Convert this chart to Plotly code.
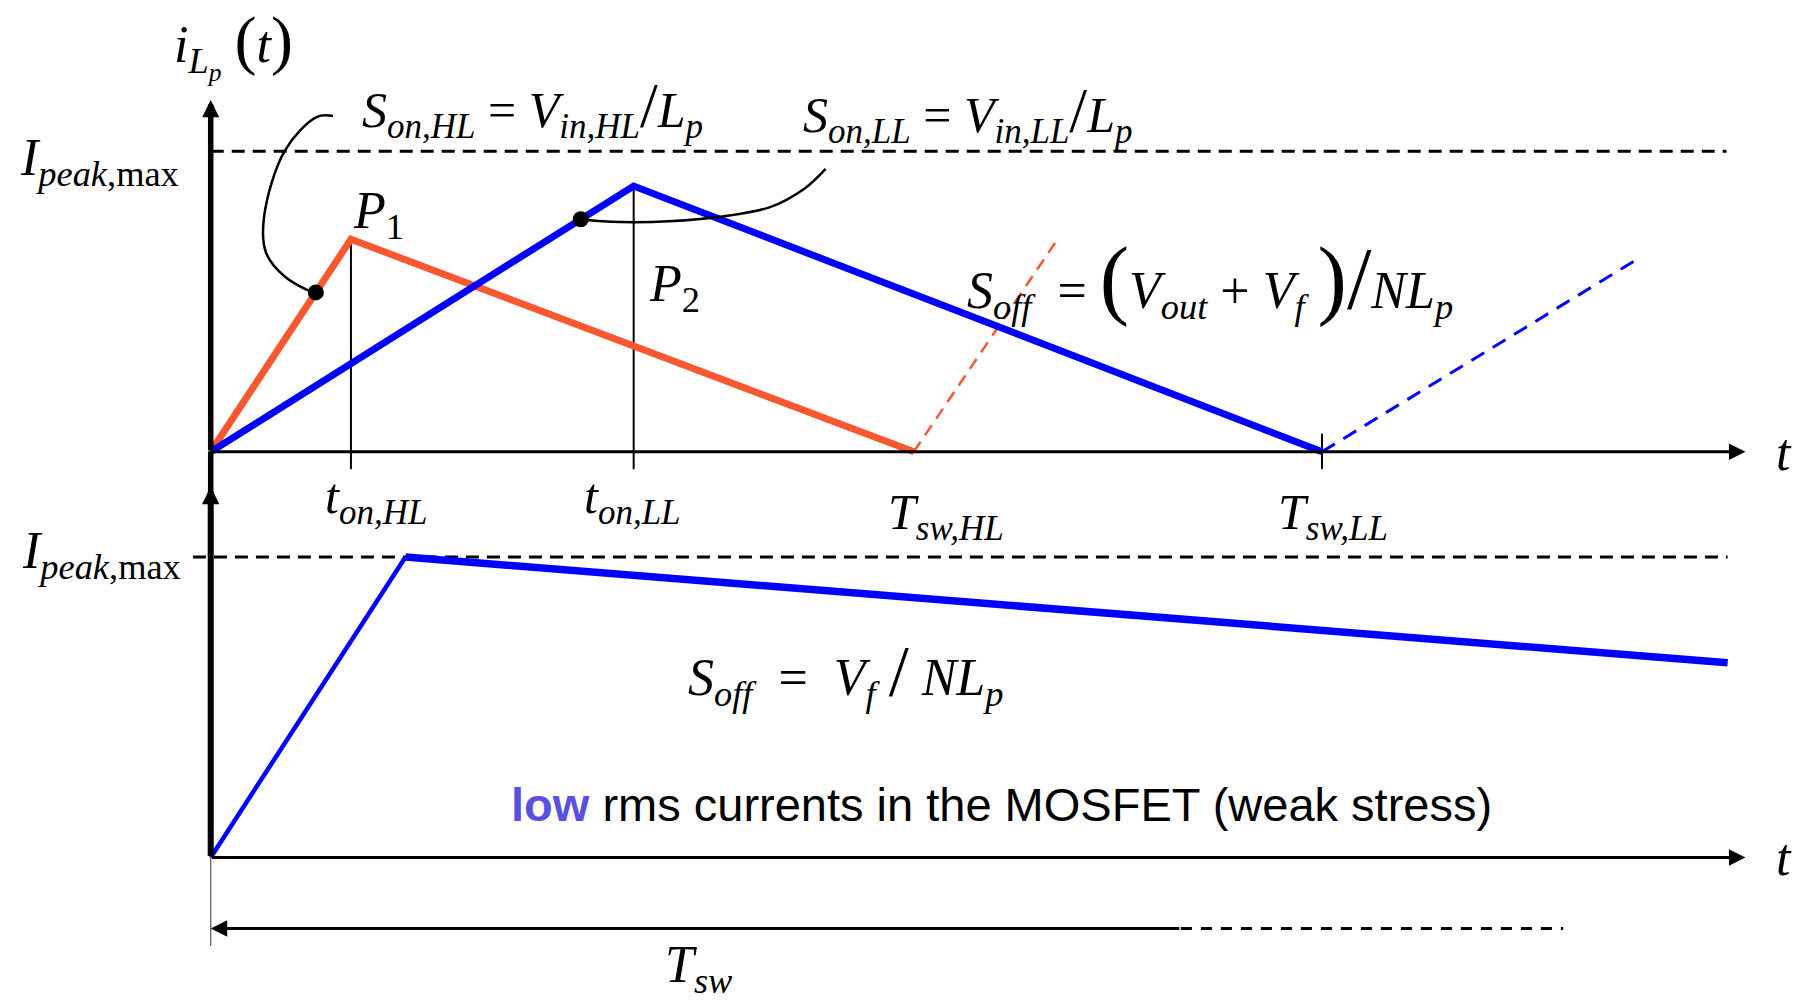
import plotly.graph_objects as go

# ---- waveform data (time in arbitrary units, current normalised to I_peak,max) ----
# top panel: high-line (HL) and low-line (LL) switching cycles
t_hl = [0.0, 1.262, 6.327]          # 0, t_on,HL, T_sw,HL
i_hl = [0.0, 0.707, 0.0]            # P1 peak
t_hl_next = [6.327, 7.615]          # start of next HL on-time
i_hl_next = [0.0, 0.704]

t_ll = [0.0, 3.806, 10.0]           # 0, t_on,LL, T_sw,LL
i_ll = [0.0, 0.884, 0.0]            # P2 peak
t_ll_next = [10.0, 12.87]           # start of next LL on-time
i_ll_next = [0.0, 0.648]

i_peak_max = 1.0
t_axis_end = 13.81
t_limit_end = 13.64

# bottom panel: reaching I_peak,max with a weak off-slope
t_bot = [0.0, 1.753, 13.65]
i_bot = [0.0, 1.0, 0.648]

# switching period arrow (solid part, dashed continuation)
t_sw_arrow = [8.73, 0.0]
t_sw_dash = [8.73, 12.17]
i_sw_level = -0.236

# leader curves from the slope labels to the ramps
lead_hl_t = [1.100, 0.957, 0.669, 0.480, 0.498, 0.669, 0.912, 0.946]
lead_hl_i = [1.117, 1.114, 1.003, 0.781, 0.662, 0.582, 0.532, 0.530]
lead_ll_t = [3.330, 3.683, 4.403, 5.033, 5.348, 5.533]
lead_ll_i = [0.7735, 0.764, 0.774, 0.814, 0.877, 0.941]

RED = "#F9572F"
BLUE = "#0000FF"
LOW = "#5A50DF"
SERIF = "Liberation Serif"
SANS = "Liberation Sans"

fig = go.Figure()


def line(x, y, color="black", width=2, dash=None, yaxis="y", shape="linear"):
    fig.add_trace(go.Scatter(
        x=x, y=y, mode="lines", yaxis=yaxis, hoverinfo="skip",
        line=dict(color=color, width=width, dash=dash, shape=shape),
    ))


# ---------------- top panel ----------------
line([0, t_limit_end], [i_peak_max, i_peak_max], width=3, dash="13px,8px")
line([t_hl[1], t_hl[1]], [i_hl[1], -0.058], width=2)
line([t_ll[1], t_ll[1]], [i_ll[1], -0.058], width=2)
line([t_ll[2], t_ll[2]], [0.06, -0.058], width=2)
line(t_hl_next, i_hl_next, color=RED, width=2.5, dash="12px,8px")
line(t_ll_next, i_ll_next, color=BLUE, width=3, dash="15px,10px")
line(t_hl, i_hl, color=RED, width=7)
line(t_ll, i_ll, color=BLUE, width=7)
line(lead_hl_t, lead_hl_i, width=2.5, shape="spline")
line(lead_ll_t, lead_ll_i, width=2.5, shape="spline")
fig.add_trace(go.Scatter(
    x=[lead_hl_t[-1], lead_ll_t[0]], y=[lead_hl_i[-1], lead_ll_i[0]],
    mode="markers", hoverinfo="skip", marker=dict(color="black", size=16),
))

# ---------------- bottom panel ----------------
line([-0.16, t_bot[2]], [i_peak_max, i_peak_max], width=3, dash="13px,8px", yaxis="y2")
line([0, 0], [0, -0.295], color="#555555", width=1.2, yaxis="y2")
line([0, 0], [1.2, 1.352], width=5.5, yaxis="y2")
line(t_bot[:2], i_bot[:2], color=BLUE, width=4.5, yaxis="y2")
line(t_bot[1:], i_bot[1:], color=BLUE, width=7.5, yaxis="y2")
line(t_sw_dash, [i_sw_level, i_sw_level], width=3, dash="11px,9px", yaxis="y2")

annotations = []


def arrow(x0, y0, x1, y1, width, size, yref="y"):
    annotations.append(dict(
        x=x1, y=y1, ax=x0, ay=y0, xref="x", yref=yref, axref="x", ayref=yref,
        text="", showarrow=True, arrowhead=2, arrowwidth=width, arrowsize=size,
        arrowcolor="black", standoff=0, startstandoff=0,
    ))


# axes with arrowheads
arrow(0, 0, 0, 1.170, 5.5, 0.62)
arrow(0, 0, t_axis_end, 0, 3, 1.1)
arrow(0, 0, 0, 1.234, 6, 0.58, yref="y2")
arrow(0, 0, t_axis_end, 0, 3, 1.1, yref="y2")
arrow(t_sw_arrow[0], i_sw_level, t_sw_arrow[1], i_sw_level, 3, 1.1, yref="y2")


def label(x, y, text, size=50, yref="y", xanchor="left", font=SERIF, color="black"):
    annotations.append(dict(
        x=x, y=y, xref="x", yref=yref, text=text, showarrow=False,
        xanchor=xanchor, yanchor="middle",
        font=dict(family=font, size=size, color=color),
    ))


def big(ch, px):
    return f'<span style="font-size:{px}px">{ch}</span>'


# top panel labels
label(-0.349, 1.352, "<i>i</i><sub><i>L<sub>p</sub></i></sub> " + big("(", 66) + "<i>t</i>" + big(")", 66), size=52)
label(-1.734, 0.964, "<i>I</i><sub><i>peak</i>,max</sub>", size=52)
label(1.346, 1.142, "<i>S</i><sub><i>on,HL</i></sub> = <i>V</i><sub><i>in,HL</i></sub>" + big("/", 64) + "<i>L</i><sub><i>p</i></sub>")
label(5.31, 1.128, "<i>S</i><sub><i>on,LL</i></sub> = <i>V</i><sub><i>in,LL</i></sub>" + big("/", 64) + "<i>L</i><sub><i>p</i></sub>")
label(1.264, 0.788, "<i>P</i><sub>1</sub>", size=52)
label(3.927, 0.548, "<i>P</i><sub>2</sub>", size=52)
label(6.79, 0.575,
      "<i>S</i><sub><i>off</i></sub>  = " + big("(", 88) + "<i>V</i><sub><i>out</i></sub> + <i>V</i><sub><i>f</i></sub> "
      + big(")", 88) + big("/", 88) + "<i>NL</i><sub><i>p</i></sub>", size=52)
label(1.009, -0.161, "<i>t</i><sub><i>on,HL</i></sub>")
label(3.342, -0.161, "<i>t</i><sub><i>on,LL</i></sub>")
label(6.078, -0.215, "<i>T</i><sub><i>sw,HL</i></sub>")
label(9.586, -0.215, "<i>T</i><sub><i>sw,LL</i></sub>")
label(14.07, -0.004, "<i>t</i>", size=52)

# bottom panel labels
label(-1.716, 1.007, "<i>I</i><sub><i>peak</i>,max</sub>", size=52, yref="y2")
label(4.28, 0.617, "<i>S</i><sub><i>off</i></sub>  =  <i>V</i><sub><i>f</i></sub> " + big("/", 72) + " <i>NL</i><sub><i>p</i></sub>",
      size=52, yref="y2")
label(7.12, 0.176, f'<b><span style="color:{LOW}">low</span></b> rms currents in the MOSFET (weak stress)',
      size=47, yref="y2", xanchor="center", font=SANS)
label(14.07, 0.0, "<i>t</i>", size=52, yref="y2")
label(4.07, -0.368, "<i>T</i><sub><i>sw</i></sub>", size=52, yref="y2")

fig.update_layout(
    width=1794, height=1002,
    margin=dict(l=0, r=0, t=0, b=0),
    paper_bgcolor="white", plot_bgcolor="white",
    showlegend=False,
    xaxis=dict(range=[-1.896, 14.247], visible=False, fixedrange=True),
    yaxis=dict(range=[-1.831, 1.503], visible=False, domain=[0, 1], fixedrange=True),
    yaxis2=dict(range=[-0.481, 2.854], visible=False, overlaying="y", fixedrange=True),
    annotations=annotations,
)

fig.write_html("out.html", config={"displayModeBar": False})
